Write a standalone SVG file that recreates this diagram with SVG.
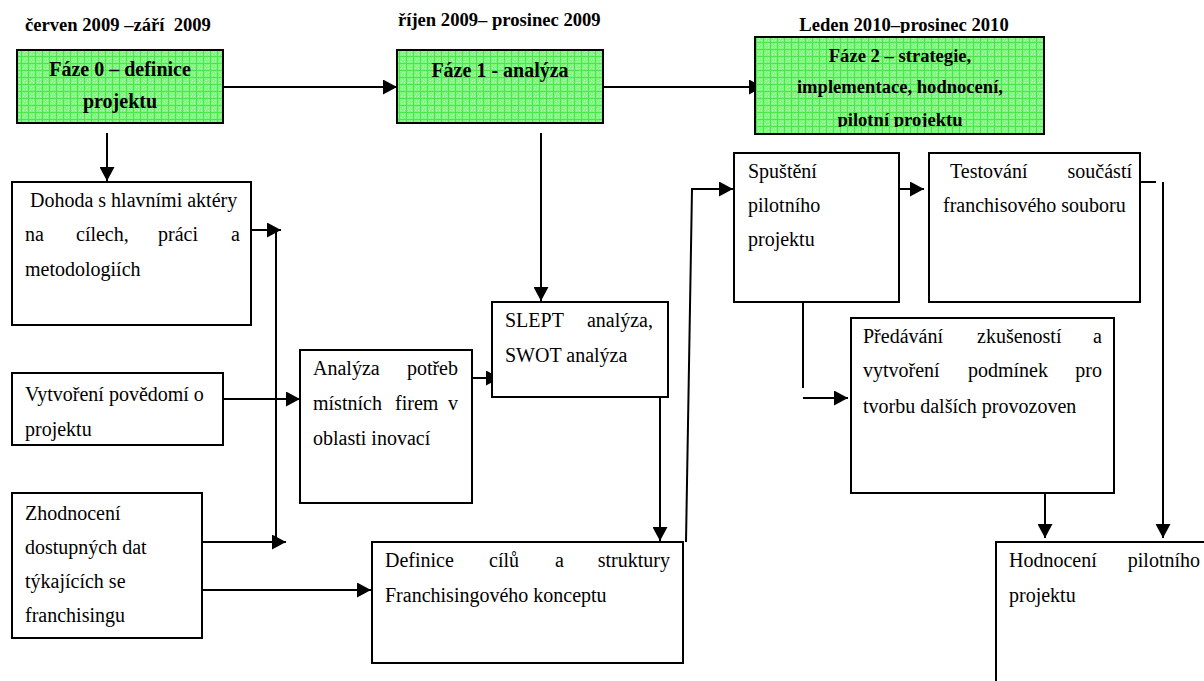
<svg xmlns="http://www.w3.org/2000/svg" width="1204" height="681" viewBox="0 0 1204 681">
<style>
  .box { fill: #ffffff; stroke: #000; stroke-width: 2; }
  .phase { fill: url(#grid); stroke: #000; stroke-width: 2; }
  .t { font-family: "Liberation Serif", "Times New Roman", serif; font-size: 20px; fill: #000; }
  .b { font-family: "Liberation Serif", "Times New Roman", serif; font-weight: bold; fill: #000; }
  .hdr { font-size: 18.6px; }
  .c { text-anchor: middle; }
  .e { text-anchor: end; }
  .ln { fill: none; stroke: #000; stroke-width: 2; }
  .ar { fill: none; stroke: #000; stroke-width: 2; marker-end: url(#ah); }
</style>
<defs>
  <pattern id="grid" width="7" height="7" patternUnits="userSpaceOnUse">
    <rect width="7" height="7" fill="#7cf87c"/>
    <rect x="0" y="0" width="7" height="1" fill="#4fe44f"/>
    <rect x="0" y="0" width="1" height="7" fill="#4fe44f"/>
    <rect x="3" y="3" width="1" height="1" fill="#d2ffd2"/>
    <rect x="5" y="5" width="1" height="1" fill="#d2ffd2"/>
    <rect x="2" y="5" width="1" height="1" fill="#bfffbf"/>
    <rect x="5" y="2" width="1" height="1" fill="#bfffbf"/>
  </pattern>
  <marker id="ah" markerWidth="14" markerHeight="15" viewBox="0 0 14 15" refX="14" refY="7.5" orient="auto" markerUnits="userSpaceOnUse">
    <path d="M0,0 L14,7.5 L0,15 Z" fill="#000"/>
  </marker>
  <clipPath id="clipHdr3"><rect x="740" y="0" width="300" height="33"/></clipPath>
  <clipPath id="clipF2"><rect x="755" y="37" width="289" height="90"/></clipPath>
</defs>

<g id="headers">
  <text class="b hdr" x="25" y="31" xml:space="preserve">červen 2009 –září  2009</text>
  <text class="b hdr" x="398" y="26">říjen 2009– prosinec 2009</text>
  <text class="b hdr c" x="904" y="31" clip-path="url(#clipHdr3)">Leden 2010–prosinec 2010</text>
</g>

<g id="connectors">
  <line class="ar" x1="223" y1="87" x2="397" y2="87"/>
  <line class="ar" x1="603" y1="87" x2="763" y2="87"/>
  <line class="ar" x1="107" y1="133" x2="107" y2="181"/>
  <line class="ar" x1="541" y1="133" x2="541" y2="301"/>
  <line class="ar" x1="251" y1="230" x2="281" y2="230"/>
  <line class="ln" x1="276" y1="230" x2="276" y2="542"/>
  <line class="ar" x1="202" y1="542" x2="286" y2="542"/>
  <line class="ar" x1="202" y1="590" x2="371" y2="590"/>
  <line class="ar" x1="223" y1="399" x2="300" y2="399"/>
  <line class="ar" x1="472" y1="378" x2="500" y2="378"/>
  <line class="ar" x1="660" y1="397" x2="660" y2="541"/>
  <polyline class="ar" points="686,542 692,189 733,189"/>
  <line class="ar" x1="880" y1="189" x2="924" y2="189"/>
  <line class="ln" x1="803" y1="302" x2="803" y2="388"/>
  <line class="ar" x1="803" y1="398" x2="848" y2="398"/>
  <line class="ln" x1="1140" y1="182" x2="1156" y2="182"/>
  <line class="ar" x1="1163" y1="182" x2="1163" y2="538"/>
  <line class="ar" x1="1045" y1="493" x2="1045" y2="538"/>
</g>

<g id="faze0">
  <rect class="phase" x="17" y="50" width="206" height="73"/>
  <text class="b c" x="120" y="76" font-size="20">Fáze 0 – definice</text>
  <text class="b c" x="120" y="108" font-size="20">projektu</text>
</g>

<g id="faze1">
  <rect class="phase" x="397" y="50" width="206" height="73"/>
  <text class="b c" x="500" y="77" font-size="20">Fáze 1 - analýza</text>
</g>

<g id="faze2">
  <rect class="phase" x="755" y="37" width="289" height="97"/>
  <g clip-path="url(#clipF2)">
    <text class="b hdr c" x="900" y="62">Fáze 2 – strategie,</text>
    <text class="b hdr c" x="900" y="93">implementace, hodnocení,</text>
    <text class="b hdr c" x="900" y="126">pilotní projektu</text>
  </g>
</g>

<g id="dohoda">
  <rect class="box" x="12" y="182" width="239" height="143"/>
  <text class="t" x="30" y="207">Dohoda s hlavními aktéry</text>
  <text class="t" x="25" y="241">na</text>
  <text class="t" x="76" y="241">cílech,</text>
  <text class="t" x="158" y="241">práci</text>
  <text class="t e" x="240" y="241">a</text>
  <text class="t" x="25" y="276">metodologiích</text>
</g>

<g id="vytvoreni">
  <rect class="box" x="12" y="373" width="211" height="72"/>
  <text class="t" x="25" y="401">Vytvoření povědomí o</text>
  <text class="t" x="25" y="436">projektu</text>
</g>

<g id="zhodnoceni">
  <rect class="box" x="12" y="493" width="190" height="145"/>
  <text class="t" x="25" y="520">Zhodnocení</text>
  <text class="t" x="25" y="554">dostupných dat</text>
  <text class="t" x="25" y="588">týkajících se</text>
  <text class="t" x="25" y="622">franchisingu</text>
</g>

<g id="analyza">
  <rect class="box" x="300" y="350" width="172" height="153"/>
  <text class="t" x="313" y="375">Analýza</text>
  <text class="t e" x="458" y="375">potřeb</text>
  <text class="t" x="313" y="410">místních</text>
  <text class="t" x="395" y="410">firem</text>
  <text class="t e" x="458" y="410">v</text>
  <text class="t" x="313" y="445">oblasti inovací</text>
</g>

<g id="slept">
  <rect class="box" x="492" y="302" width="176" height="95"/>
  <text class="t" x="505" y="327">SLEPT</text>
  <text class="t e" x="653" y="327">analýza,</text>
  <text class="t" x="505" y="362">SWOT analýza</text>
</g>

<g id="definice">
  <rect class="box" x="372" y="542" width="311" height="121"/>
  <text class="t" x="385" y="567">Definice</text>
  <text class="t" x="489" y="567">cílů</text>
  <text class="t" x="555" y="567">a</text>
  <text class="t e" x="670" y="567">struktury</text>
  <text class="t" x="385" y="602">Franchisingového konceptu</text>
</g>

<g id="spusteni">
  <rect class="box" x="734" y="153" width="165" height="149"/>
  <text class="t" x="748" y="178">Spuštění</text>
  <text class="t" x="748" y="212">pilotního</text>
  <text class="t" x="748" y="246">projektu</text>
</g>

<g id="testovani">
  <rect class="box" x="929" y="153" width="211" height="149"/>
  <text class="t" x="950" y="178">Testování</text>
  <text class="t e" x="1132" y="178">součástí</text>
  <text class="t" x="943" y="212">franchisového souboru</text>
</g>

<g id="predavani">
  <rect class="box" x="851" y="318" width="263" height="175"/>
  <text class="t" x="863" y="343">Předávání</text>
  <text class="t" x="977" y="343">zkušeností</text>
  <text class="t e" x="1102" y="343">a</text>
  <text class="t" x="863" y="377">vytvoření</text>
  <text class="t" x="968" y="377">podmínek</text>
  <text class="t e" x="1102" y="377">pro</text>
  <text class="t" x="863" y="413">tvorbu dalších provozoven</text>
</g>

<g id="hodnoceni">
  <rect class="box" x="996" y="542" width="212" height="150"/>
  <text class="t" x="1009" y="567">Hodnocení</text>
  <text class="t e" x="1200" y="567">pilotního</text>
  <text class="t" x="1009" y="602">projektu</text>
</g>
</svg>
